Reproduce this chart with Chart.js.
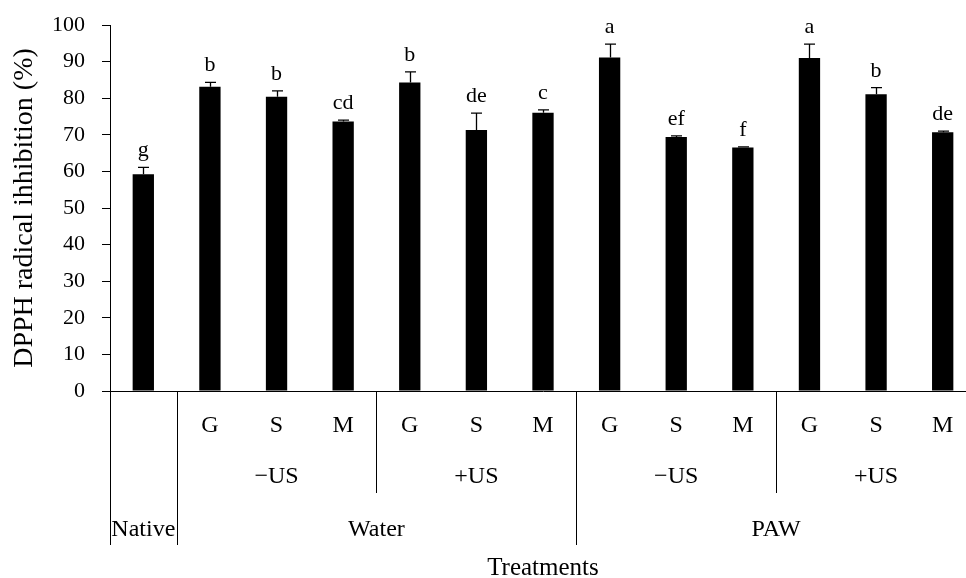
<!DOCTYPE html>
<html>
<head>
<meta charset="utf-8">
<script src="https://cdn.jsdelivr.net/npm/chart.js@4.4.1/dist/chart.umd.min.js"></script>
<style>
  html, body { margin: 0; padding: 0; background: #fff; overflow: hidden; }
  #wrap { position: relative; width: 976px; height: 578px; }
</style>
</head>
<body>
<div id="wrap"><canvas id="myChart"></canvas></div>
<script>
// bars: Native, then Water -US, Water +US, PAW -US, PAW +US (G, S, M each)
const categories = ['Native', 'G', 'S', 'M', 'G', 'S', 'M', 'G', 'S', 'M', 'G', 'S', 'M'];
const inhibition = [59.2, 83.1, 80.4, 73.6, 84.3, 71.3, 76.0, 91.1, 69.4, 66.5, 91.0, 81.1, 70.7];
const errorUp = [1.9, 1.2, 1.6, 0.4, 2.9, 4.6, 0.8, 3.7, 0.3, 0.2, 3.8, 1.8, 0.3];
const letters = ['g', 'b', 'b', 'cd', 'b', 'de', 'c', 'a', 'ef', 'f', 'a', 'b', 'de'];
const usGroups = ['\u2212US', '+US', '\u2212US', '+US'];
const mainGroups = ['Native', 'Water', 'PAW'];
const mainSpans = [1, 6, 6];
const yTicks = [0, 10, 20, 30, 40, 50, 60, 70, 80, 90, 100];

const FONT = '"Liberation Serif", "Times New Roman", serif';

const extrasPlugin = {
  id: 'extras',
  afterDatasetsDraw(chart) {
    const ctx = chart.ctx;
    const x = chart.scales.x;
    const y = chart.scales.y;
    const area = chart.chartArea;
    const bars = chart.getDatasetMeta(0).data;

    ctx.save();
    // error bars (upper only) and letters
    ctx.strokeStyle = '#000';
    ctx.lineWidth = 1.3;
    ctx.fillStyle = '#000';
    ctx.font = '22px ' + FONT;
    ctx.textAlign = 'center';
    ctx.textBaseline = 'alphabetic';
    bars.forEach((bar, i) => {
      const top = y.getPixelForValue(inhibition[i] + errorUp[i]);
      const cx = Math.round(bar.x) + 0.5;
      ctx.beginPath();
      ctx.moveTo(cx, bar.y);
      ctx.lineTo(cx, top);
      ctx.moveTo(cx - 5.5, top);
      ctx.lineTo(cx + 5.5, top);
      ctx.stroke();
      ctx.fillText(letters[i], bar.x, top - 11);
    });

    // multi-level category axis
    const px = (i) => x.getPixelForValue(i);
    const edge = (i) => (px(i - 1) + px(i)) / 2;
    const b = area.bottom;
    ctx.lineWidth = 1;
    const vline = (xx, len) => {
      const xr = Math.round(xx) + 0.5;
      ctx.beginPath();
      ctx.moveTo(xr, b);
      ctx.lineTo(xr, b + len);
      ctx.stroke();
    };
    vline(area.left, 154);
    vline(edge(1), 154);
    vline(edge(7), 154);
    vline(edge(4), 102);
    vline(edge(10), 102);

    ctx.textBaseline = 'middle';
    ctx.font = '24px ' + FONT;
    categories.forEach((c, i) => {
      if (i > 0) ctx.fillText(c, px(i), b + 35);
    });
    usGroups.forEach((g, k) => {
      ctx.fillText(g, px(2 + k * 3), b + 86);
    });
    let start = 0;
    mainGroups.forEach((g, k) => {
      const end = start + mainSpans[k] - 1;
      ctx.fillText(g, (px(start) + px(end)) / 2, b + 139);
      start = end + 1;
    });
    ctx.font = '25px ' + FONT;
    ctx.fillText('Treatments', (area.left + area.right) / 2, b + 177);
    ctx.restore();
  }
};

const ctx = document.getElementById('myChart').getContext('2d');
new Chart(ctx, {
  type: 'bar',
  data: {
    labels: categories,
    datasets: [{
      data: inhibition,
      backgroundColor: '#000',
      borderWidth: 0,
      barPercentage: 0.32,
      categoryPercentage: 1
    }]
  },
  options: {
    responsive: true,
    maintainAspectRatio: false,
    animation: false,
    layout: { padding: { top: 25, right: 0, bottom: 0, left: 0 } },
    plugins: {
      legend: { display: false },
      tooltip: { enabled: false }
    },
    scales: {
      x: {
        grid: { display: true, drawOnChartArea: false, drawTicks: false },
        border: { display: true, color: '#000', width: 1 },
        ticks: { display: false },
        afterFit: (scale) => { scale.height = 187; }
      },
      y: {
        min: 0,
        max: 100,
        afterBuildTicks: (scale) => { scale.ticks = yTicks.map(v => ({ value: v })); },
        grid: { display: true, drawOnChartArea: false, color: '#000', tickLength: 8 },
        border: { display: true, color: '#000', width: 1 },
        ticks: { color: '#000', padding: 17, font: { family: FONT, size: 22, lineHeight: 1 } },
        title: {
          display: true,
          text: 'DPPH radical ihhibition (%)',
          color: '#000',
          font: { family: FONT, size: 28 },
          padding: { top: 8, bottom: 0 }
        },
        afterFit: (scale) => {
          scale.width = 110;
          scale.paddingTop = 0;
          scale.paddingBottom = 0;
        }
      }
    }
  },
  plugins: [extrasPlugin]
});
</script>
</body>
</html>
